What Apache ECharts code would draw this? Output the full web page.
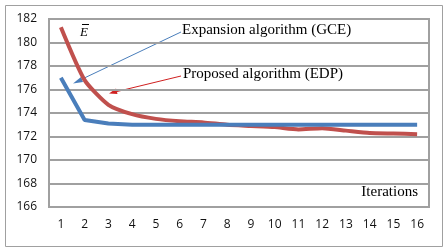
<!DOCTYPE html>
<html><head><meta charset="utf-8">
<script src="https://cdn.jsdelivr.net/npm/echarts@6/dist/echarts.min.js"></script>
<style>html,body{margin:0;padding:0;background:#fff}#c{width:448px;height:252px}</style>
</head><body><div id="c"></div>
<script>
var categories = ['1','2','3','4','5','6','7','8','9','10','11','12','13','14','15','16'];
var gceValues = [177.0,173.4,173.1,173.0,173.0,173.0,173.0,173.0,173.0,173.0,173.0,173.0,173.0,173.0,173.0,173.0];
var edpValues = [181.3,176.8,174.7,173.9,173.5,173.3,173.2,173.0,172.9,172.8,172.6,172.7,172.5,172.3,172.25,172.2];
var yTicks = [166,168,170,172,174,176,178,180,182];
var gceLabel = 'Expansion algorithm (GCE)';
var edpLabel = 'Proposed algorithm (EDP)';
var xAxisName = 'Iterations';

var chart = echarts.init(document.getElementById('c'), null, {renderer:'canvas'});
var gridCol = '#a0a0a0';
chart.setOption({
  animation:false,
  backgroundColor:'#fff',
  grid:{left:49,right:19,top:19,bottom:45,show:true,borderColor:gridCol,borderWidth:2,backgroundColor:'transparent'},
  xAxis:{type:'category',data:categories,boundaryGap:true,
    axisLine:{show:true,lineStyle:{color:gridCol,width:2}},
    axisTick:{show:false},
    axisLabel:{margin:12,fontSize:12,color:'#111',fontFamily:'Open Sans'},
    splitLine:{show:false}},
  yAxis:{type:'value',min:yTicks[0],max:yTicks[yTicks.length-1],interval:2,
    axisLine:{show:true,lineStyle:{color:gridCol,width:2}},
    axisTick:{show:false},
    axisLabel:{margin:12,fontSize:12,color:'#111',fontFamily:'Open Sans'},
    splitLine:{show:true,lineStyle:{color:gridCol,width:2}}},
  series:[
    {name:gceLabel,type:'line',data:gceValues,symbol:'none',smooth:false,
     lineStyle:{color:'#4a7ebb',width:4},z:3},
    {name:edpLabel,type:'line',data:edpValues,symbol:'none',smooth:0.2,
     lineStyle:{color:'#c0504d',width:4},z:2}
  ],
  graphic:[
    {type:'rect',shape:{x:5.5,y:5.5,width:437,height:241},style:{fill:'none',stroke:'#a0a0a0',lineWidth:1},silent:true},
    {type:'text',left:80,top:26,style:{text:'E',font:'italic 13px "Liberation Serif"',fill:'#000'}},
    {type:'line',shape:{x1:82,y1:24.5,x2:89,y2:24.5},style:{stroke:'#000',lineWidth:1}},
    {type:'text',left:182,top:23,style:{text:gceLabel,font:'15px "Liberation Serif"',fill:'#000'}},
    {type:'text',left:183,top:67,style:{text:edpLabel,font:'15px "Liberation Serif"',fill:'#000'}},
    {type:'text',right:30,top:185,style:{text:xAxisName,font:'15px "Liberation Serif"',fill:'#000'}},
    {type:'line',shape:{x1:181,y1:32,x2:78,y2:81},style:{stroke:'#4a7ebb',lineWidth:1}},
    {type:'polygon',shape:{points:[[73,83.5],[81,77],[83,82]]},style:{fill:'#4a7ebb'}},
    {type:'line',shape:{x1:181,y1:76,x2:115,y2:92},style:{stroke:'#d02020',lineWidth:1}},
    {type:'polygon',shape:{points:[[109,93.5],[116,88.5],[117.5,94]]},style:{fill:'#d02020'}}
  ]
});
</script></body></html>
